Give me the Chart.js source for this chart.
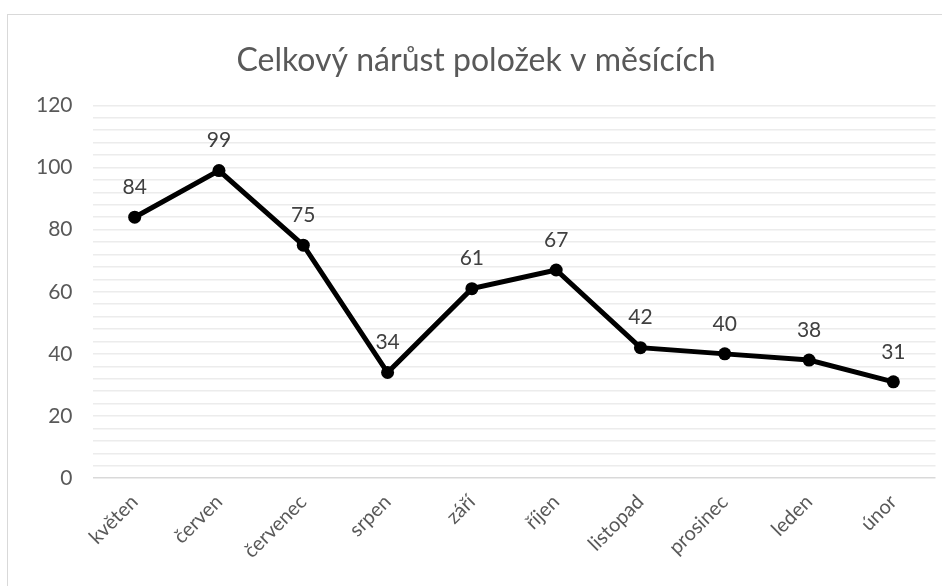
<!DOCTYPE html>
<html>
<head>
<meta charset="utf-8">
<script src="https://cdn.jsdelivr.net/npm/chart.js@4"></script>
<style>
  html, body { margin: 0; padding: 0; background: #fff; }
  body { width: 942px; height: 586px; position: relative; overflow: hidden; }
  #frame { position: absolute; left: 7px; top: 14px; width: 960px; height: 600px; border: 1px solid #d9d9d9; }
  #wrap { position: absolute; left: 0; top: 0; width: 942px; height: 586px; }
</style>
</head>
<body>
<div id="frame"></div>
<div id="wrap"><canvas id="chart"></canvas></div>
<script>
const months = ["květen", "červen", "červenec", "srpen", "září", "říjen", "listopad", "prosinec", "leden", "únor"];
const growth = [84, 99, 75, 34, 61, 67, 42, 40, 38, 31];
const chartTitle = "Celkový nárůst položek v měsících";

// labels above each point
const pointLabels = {
    id: "pointLabels",
    afterDatasetsDraw(chart) {
        const ctx = chart.ctx;
        const meta = chart.getDatasetMeta(0);
        ctx.save();
        ctx.font = "21px Lato";
        ctx.fillStyle = "#404040";
        ctx.textAlign = "center";
        ctx.textBaseline = "middle";
        meta.data.forEach((pt, i) => {
            ctx.fillText(String(growth[i]), pt.x, pt.y - 30);
        });
        ctx.restore();
    },
};

const ctx = document.querySelector("#chart").getContext("2d");
new Chart(ctx, {
    type: "line",
    data: {
        labels: months,
        datasets: [
            {
                data: growth,
                borderColor: "#000",
                backgroundColor: "#000",
                borderWidth: 5,
                pointRadius: 6.5,
                pointBackgroundColor: "#000",
                pointBorderWidth: 0,
                tension: 0,
            },
        ],
    },
    options: {
        responsive: true,
        maintainAspectRatio: false,
        animation: false,
        layout: {
            padding: { left: 16, right: 6, top: 41, bottom: 19 },
        },
        plugins: {
            legend: { display: false },
            tooltip: { enabled: false },
            title: {
                display: true,
                text: chartTitle,
                color: "#595959",
                font: { family: "Lato", size: 32, weight: "normal" },
                padding: { top: 0, bottom: 26 },
            },
        },
        scales: {
            x: {
                offset: true,
                grid: { display: false },
                border: { display: false },
                ticks: {
                    color: "#595959",
                    font: { family: "Lato", size: 20 },
                    maxRotation: 45,
                    minRotation: 45,
                    autoSkip: false,
                    padding: 4,
                },
            },
            y: {
                min: 0,
                max: 120,
                ticks: {
                    stepSize: 4,
                    autoSkip: false,
                    color: "#595959",
                    font: { family: "Lato", size: 21 },
                    padding: 20,
                    callback: (v) => (v % 20 === 0 ? v : ""),
                },
                grid: {
                    color: (c) => (c.tick && c.tick.value === 0 ? "#d9d9d9" : "#ececec"),
                    lineWidth: 1.5,
                    drawTicks: false,
                },
                border: { display: false },
            },
        },
    },
    plugins: [pointLabels],
});
</script>
</body>
</html>
